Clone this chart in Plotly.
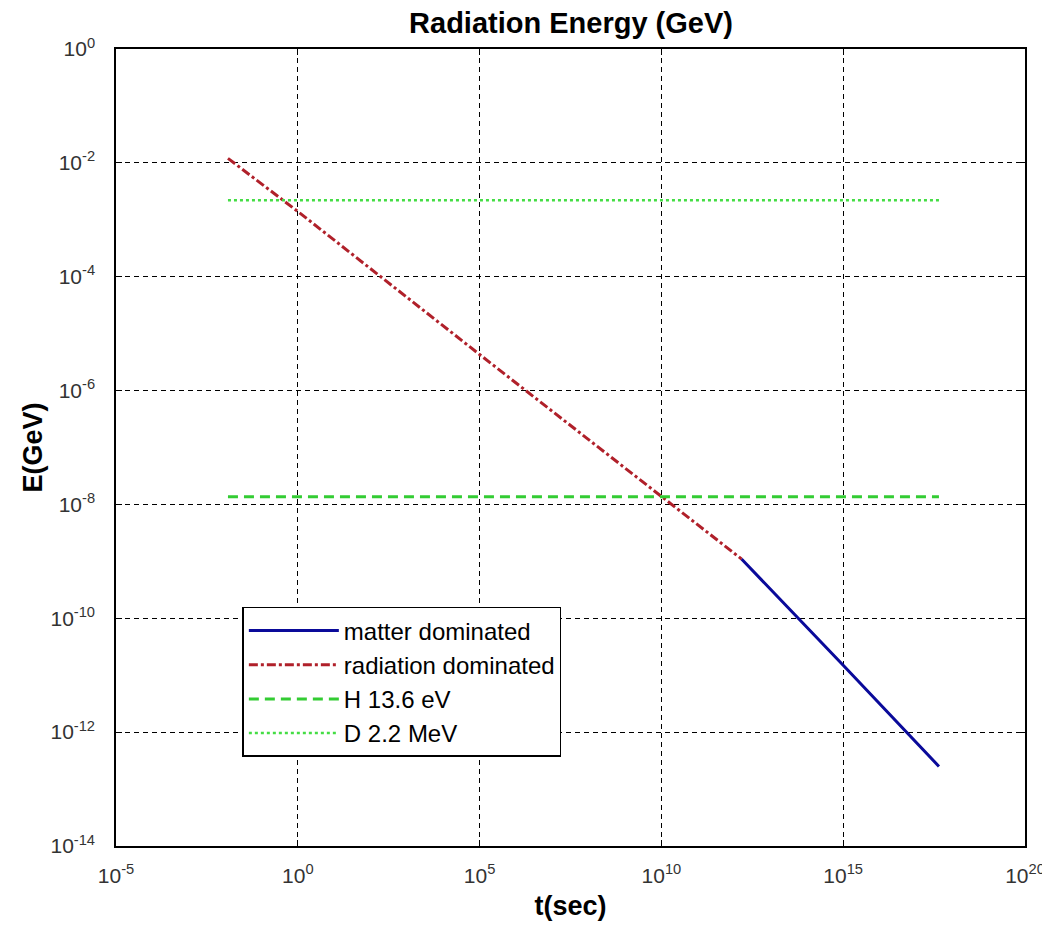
import plotly.graph_objects as go

# radiation era (E ~ t^-1/2)
t_rad = [1.2e-2, 1e0, 1e5, 1e10, 1.6e12]
E_rad = [1.2e-2, 1.4e-3, 4.3e-6, 1.4e-8, 1.1e-9]

# matter era (E ~ t^-2/3)
t_mat = [1.6e12, 1e15, 4.3e17]
E_mat = [1.1e-9, 1.5e-11, 2.5e-13]

# reference energies (GeV)
t_ref = [1.2e-2, 4.3e17]
E_H = [1.36e-8, 1.36e-8]
E_D = [2.2e-3, 2.2e-3]

x_ticks = [-5, 0, 5, 10, 15, 20]
y_ticks = [0, -2, -4, -6, -8, -10, -12, -14]

fig = go.Figure()
fig.add_trace(go.Scatter(x=t_mat, y=E_mat, mode="lines", name="matter dominated",
                         line=dict(color="#0a0a9a", width=3)))
fig.add_trace(go.Scatter(x=t_rad, y=E_rad, mode="lines", name="radiation dominated",
                         line=dict(color="#b0202a", width=3, dash="dashdot")))
fig.add_trace(go.Scatter(x=t_ref, y=E_H, mode="lines", name="H 13.6 eV",
                         line=dict(color="#33cc33", width=3, dash="10px,6px")))
fig.add_trace(go.Scatter(x=t_ref, y=E_D, mode="lines", name="D 2.2 MeV",
                         line=dict(color="#44dd44", width=2.5, dash="dot")))

axis_style = dict(showgrid=True, gridcolor="black", griddash="5px,4px", gridwidth=1,
                  showline=True, linecolor="black", linewidth=1.5, mirror="ticks",
                  ticks="inside", ticklen=6, tickcolor="black",
                  zeroline=False, tickfont=dict(size=21, color="#333"),
                  ticklabeloverflow="allow", automargin=False)

fig.update_xaxes(type="log", range=[-5, 20],
                 tickvals=[10.0**v for v in x_ticks],
                 ticktext=["10<sup>%d</sup>" % v for v in x_ticks],
                 ticklabelstandoff=10,
                 title=dict(text="<b>t(sec)</b>", font=dict(size=27), standoff=10),
                 **axis_style)
fig.update_yaxes(type="log", range=[-14, 0],
                 tickvals=[10.0**v for v in y_ticks],
                 ticktext=["10<sup>%d</sup>" % v for v in y_ticks],
                 ticklabelstandoff=15,
                 title=dict(text="<b>E(GeV)</b>", font=dict(size=27), standoff=0),
                 **axis_style)

# page has an 8px body margin, so keep the figure inside the window
fig.update_layout(
    width=1034, height=914,
    margin=dict(l=108, r=17, t=41, b=76),
    paper_bgcolor="white", plot_bgcolor="white",
    font=dict(family="Liberation Sans, Arial", color="black"),
    title=dict(text="<b>Radiation Energy (GeV)</b>", x=0.5445, xanchor="center",
               y=0.9836, yanchor="middle", font=dict(size=29)),
    legend=dict(x=0.139, y=0.30, xanchor="left", yanchor="top",
                bgcolor="white", bordercolor="black", borderwidth=1.5,
                font=dict(size=24), itemwidth=90),
)

fig.write_html("out.html")
